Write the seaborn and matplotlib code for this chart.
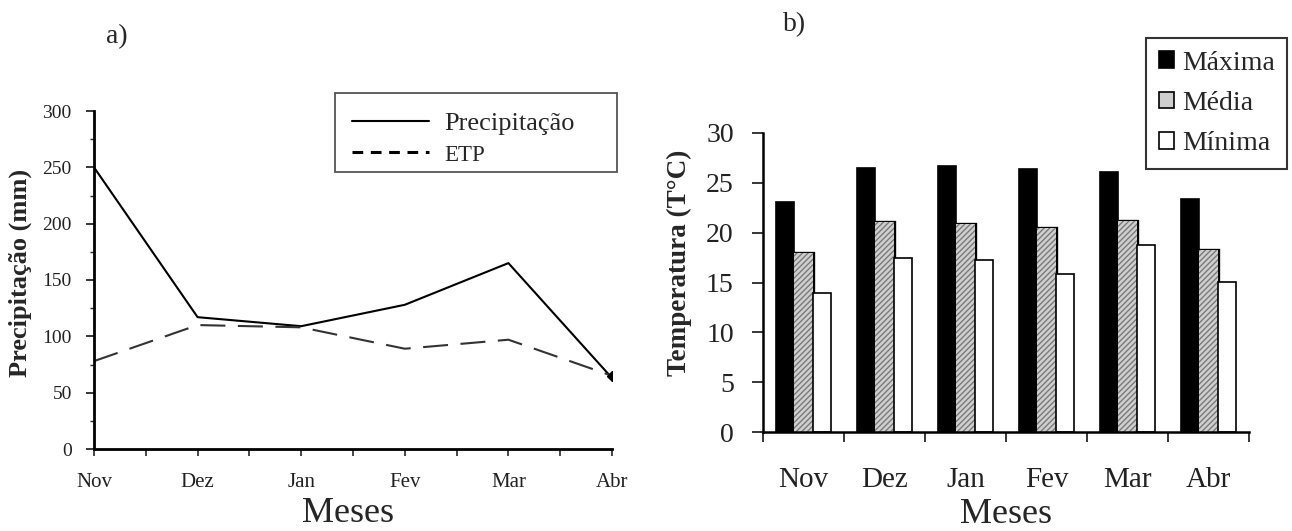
import matplotlib
matplotlib.use("Agg")
import matplotlib.pyplot as plt
import matplotlib.patheffects as pe
from matplotlib.patches import Rectangle
from matplotlib.ticker import MultipleLocator, FixedLocator, NullFormatter
import pandas as pd
import seaborn as sns

sns.set_theme(style="ticks")
plt.rcParams["font.family"] = ["Liberation Serif", "DejaVu Serif"]

# --- data ---
months = ["Nov", "Dez", "Jan", "Fev", "Mar", "Abr"]
precip = [250, 117, 109, 128, 165, 63]
etp = [78, 110, 108, 89, 97, 65]

t_max = [23.1, 26.5, 26.7, 26.4, 26.1, 23.4]
t_med = [18.0, 21.1, 20.9, 20.5, 21.2, 18.3]
t_min = [13.9, 17.5, 17.3, 15.9, 18.8, 15.1]
temp_series = ["Máxima", "Média", "Mínima"]

rain = pd.DataFrame({
    "mes": months * 2,
    "valor": precip + etp,
    "serie": ["Precipitação"] * len(months) + ["ETP"] * len(months),
})
temp = pd.DataFrame({
    "mes": months * 3,
    "valor": t_max + t_med + t_min,
    "serie": [s for s in temp_series for _ in months],
})

W, H = 1292, 531
fig = plt.figure(figsize=(W / 100, H / 100), dpi=100)
ax1 = fig.add_axes([94 / W, 82 / H, 518 / W, 338 / H])
ax2 = fig.add_axes([763 / W, 99 / H, 486 / W, 299 / H])

# ---------------- a) precipitation vs ETP ----------------
sns.lineplot(data=rain, x="mes", y="valor", style="serie", color="black",
             dashes={"Precipitação": "", "ETP": (12, 6)}, linewidth=1.5,
             sort=False, ax=ax1)
ax1.lines[1].set_color("#333333")
ax1.plot(months[-1], etp[-1], "D", color="black", ms=5)

ax1.set_xlim(0, len(months) - 1)
ax1.set_ylim(0, 300)
ax1.yaxis.set_major_locator(MultipleLocator(50))
ax1.yaxis.set_minor_locator(MultipleLocator(25))
ax1.xaxis.set_minor_locator(MultipleLocator(0.5))
ax1.tick_params(axis="y", which="major", direction="out", length=6, width=1.3,
                labelsize=14, pad=10, labelcolor="#222222")
ax1.tick_params(axis="y", which="minor", direction="out", length=3, width=1.0)
ax1.tick_params(axis="x", which="both", direction="out", length=5, width=1.2,
                labelsize=15, pad=12, labelcolor="#222222")
for s in ["left", "bottom"]:
    ax1.spines[s].set_linewidth(2)
    ax1.spines[s].set_color("black")

ax1.set_ylabel("Precipitação (mm)", fontsize=19, fontweight="bold")
ax1.set_xlabel("Meses", fontsize=26)
ax1.yaxis.set_label_coords(-0.12, 0.522)
ax1.xaxis.set_label_coords(0.49, -0.19)
ax1.xaxis.label.set_va("center")

# legend with a hand-drawn box (the original box has a wide right margin)
leg1 = ax1.legend(loc="upper left", bbox_to_anchor=(352 / W, 1 - 112 / H),
                  bbox_transform=fig.transFigure, frameon=False, fontsize=19,
                  handlelength=2.9, handletextpad=0.6, borderpad=0,
                  borderaxespad=0, labelspacing=0.27)
leg1.get_texts()[1].set_fontsize(16.5)
etp_handle = leg1.get_lines()[1]
etp_handle.set_color("black")
etp_handle.set_linewidth(2.2)
etp_handle.set_dashes([3.5, 2.5])
fig.add_artist(Rectangle((335 / W, 1 - 172 / H), 282 / W, 79 / H,
                         transform=fig.transFigure, fill=False,
                         edgecolor="#555555", linewidth=1.3))
fig.text(117 / W, 1 - 37 / H, "a)", fontsize=20, ha="center", va="center")

# ---------------- b) temperatures ----------------
sns.barplot(data=temp, x="mes", y="valor", hue="serie", order=months,
            hue_order=temp_series, width=0.67, ax=ax2,
            palette=["black", "#cfcfcf", "white"], edgecolor="black",
            linewidth=1.2, saturation=1)

n = len(months)
for p in ax2.patches[n:2 * n]:
    p.set_edgecolor("#7a7a7a")
    p.set_hatch("//////")
    p.set_linewidth(0)
    p.set_path_effects([pe.Stroke(linewidth=2.4, foreground="black"), pe.Normal()])

ax2.set_xlim(-0.5, n - 0.5)
ax2.set_ylim(0, 30)
ax2.yaxis.set_major_locator(MultipleLocator(5))
ax2.xaxis.set_minor_locator(FixedLocator([i - 0.5 for i in range(n + 1)]))
ax2.xaxis.set_minor_formatter(NullFormatter())
ax2.tick_params(axis="x", which="major", length=0, labelsize=21, pad=25,
                labelcolor="#222222")
ax2.tick_params(axis="x", which="minor", direction="out", length=7, width=1.3)
ax2.tick_params(axis="y", which="major", direction="out", length=8, width=1.3,
                labelsize=20, pad=13, labelcolor="#222222")
for s in ["left", "bottom"]:
    ax2.spines[s].set_linewidth(1.8)
    ax2.spines[s].set_color("black")

ax2.set_ylabel("Temperatura (T°C)", fontsize=19.5, fontweight="bold")
ax2.set_xlabel("Meses", fontsize=26)
ax2.yaxis.set_label_coords(-0.146, 0.565)
ax2.xaxis.set_label_coords(0.5, -0.276)
ax2.xaxis.label.set_va("center")

handles, labels = ax2.get_legend_handles_labels()
leg2 = ax2.legend(handles, labels, loc="upper left",
                  bbox_to_anchor=(1146 / W, 1 - 38 / H),
                  bbox_transform=fig.transFigure, frameon=True, fancybox=False,
                  edgecolor="black", fontsize=20, handlelength=0.55,
                  handleheight=0.55, handletextpad=0.3, borderpad=0.45,
                  borderaxespad=0, labelspacing=0.55)
leg2.get_frame().set_linewidth(1.5)
fig.text(795 / W, 1 - 25 / H, "b)", fontsize=20, ha="center", va="center")

sns.despine(fig=fig, top=True, right=True)
fig.savefig("out.png", dpi=100, facecolor="white")
